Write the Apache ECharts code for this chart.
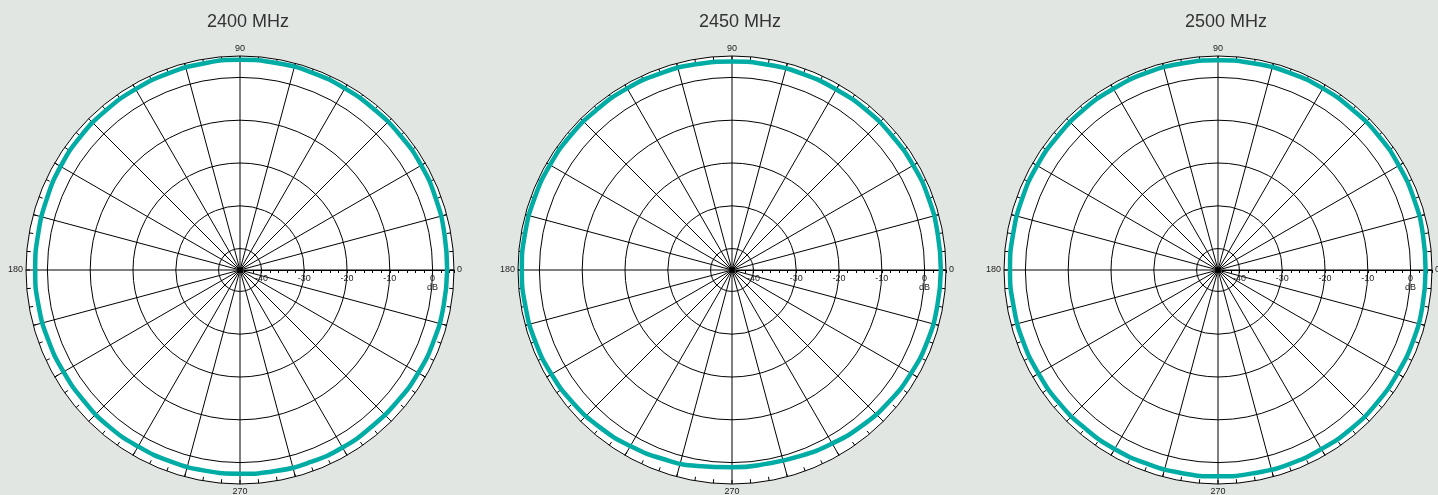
<!DOCTYPE html>
<html>
<head>
<meta charset="utf-8">
<title>Radiation pattern</title>
<script src="https://cdn.jsdelivr.net/npm/echarts@6/dist/echarts.min.js"></script>
<style>
    html, body { margin: 0; padding: 0; background: #e1e6e3; }
    #main { width: 1438px; height: 495px; }
</style>
</head>
<body>
<div id="main"></div>
<script>
// measured gain (dB) every 10 degrees, 0..350
var freqs = ['2400 MHz', '2450 MHz', '2500 MHz'];
var angles = [0, 10, 20, 30, 40, 50, 60, 70, 80, 90, 100, 110, 120, 130, 140, 150, 160, 170,
    180, 190, 200, 210, 220, 230, 240, 250, 260, 270, 280, 290, 300, 310, 320, 330, 340, 350];
var gain2400 = [3.4, 3.5, 3.7, 3.9, 3.9, 3.9, 4.0, 4.1, 4.1, 4.1, 4.0, 3.9, 3.8, 3.7, 3.6, 3.4, 3.1, 2.9,
    2.85, 2.8, 2.7, 2.6, 2.6, 2.7, 2.6, 2.6, 2.6, 2.6, 2.7, 2.8, 2.9, 2.8, 2.9, 3.1, 3.2, 3.3];
var gain2450 = [3.8, 3.8, 3.9, 3.9, 3.8, 3.8, 3.7, 3.7, 3.7, 3.7, 3.8, 3.9, 4.0, 4.0, 4.1, 4.1, 4.1, 4.1,
    4.1, 4.0, 3.9, 3.7, 3.4, 3.0, 2.5, 2.0, 1.5, 1.1, 1.0, 1.3, 1.8, 2.4, 2.9, 3.3, 3.6, 3.7];
var gain2500 = [3.5, 3.6, 3.7, 3.8, 3.9, 3.9, 4.0, 4.0, 4.0, 4.0, 4.0, 4.0, 3.9, 3.9, 3.8, 3.8, 3.7, 3.6,
    3.6, 3.5, 3.5, 3.4, 3.4, 3.3, 3.3, 3.2, 3.2, 3.2, 3.2, 3.3, 3.3, 3.4, 3.4, 3.4, 3.5, 3.5];
var gains = [gain2400, gain2450, gain2500];
var ringLabels = [-40, -30, -20, -10, 0];
var angleLabels = [0, 90, 180, 270];

var centersX = [240, 732, 1218];
var cy = 270, R = 214;
var teal = '#00aca4';
var font = 'Liberation Sans, Arial, sans-serif';

var myChart = echarts.init(document.getElementById('main'));

var option = {
    backgroundColor: '#e1e6e3',
    animation: false,
    title: [],
    polar: [],
    angleAxis: [],
    radiusAxis: [],
    series: []
};

centersX.forEach(function (cx, i) {
    var p = 3 * i;
    option.title.push({
        text: freqs[i],
        left: cx + 3,
        top: 8,
        textAlign: 'center',
        textStyle: { fontSize: 18, fontWeight: 'normal', color: '#333', fontFamily: font }
    });

    // white disc underneath
    option.polar.push({ center: [cx, cy], radius: [0, R] });
    // grid polar
    option.polar.push({ center: [cx, cy], radius: [0, R] });
    // overlay polar for the dB scale (starts 1 dB out from the centre)
    option.polar.push({ center: [cx, cy], radius: [R / 50, R] });

    option.angleAxis.push({
        polarIndex: p, z: 0,
        type: 'value', min: 0, max: 360, interval: 90, startAngle: 0, clockwise: false,
        axisLine: { show: false }, axisTick: { show: false }, axisLabel: { show: false },
        splitLine: { show: false },
        splitArea: { show: true, areaStyle: { color: ['#fff'] } }
    });
    option.radiusAxis.push({ polarIndex: p, show: false, min: -45, max: 5 });

    option.angleAxis.push({
        polarIndex: p + 1, z: 2,
        type: 'value', min: 0, max: 360, interval: 15,
        startAngle: 0, clockwise: false,
        axisLine: { lineStyle: { color: '#000', width: 1 } },
        axisTick: { inside: true, length: 4, lineStyle: { color: '#000', width: 1 } },
        minorTick: { show: true, splitNumber: 3, length: 4, lineStyle: { color: '#000', width: 1 } },
        axisLabel: {
            margin: 3, fontSize: 9, color: '#222', fontFamily: font,
            formatter: function (v) { return (v < 360 && angleLabels.indexOf(v) >= 0) ? String(v) : ''; }
        },
        splitLine: { lineStyle: { color: '#000', width: 1 } }
    });
    option.radiusAxis.push({
        polarIndex: p + 1, z: 2,
        type: 'value', min: -45, max: 5, interval: 5,
        axisLine: { show: false }, axisTick: { show: false }, axisLabel: { show: false },
        splitLine: { lineStyle: { color: ['transparent', '#000'], width: 1 } }
    });

    option.angleAxis.push({
        polarIndex: p + 2, show: false,
        type: 'value', min: 0, max: 360, startAngle: 0, clockwise: false
    });
    option.radiusAxis.push({
        polarIndex: p + 2, z: 3,
        type: 'value', min: -44, max: 5, interval: 2,
        axisLine: { lineStyle: { color: '#000', width: 1 } },
        axisTick: { length: -3, lineStyle: { color: '#000', width: 1 } },
        axisLabel: {
            margin: -4, verticalAlign: 'top', fontSize: 9, color: '#222', fontFamily: font, lineHeight: 9,
            formatter: function (v) {
                if (v === 0) return '0\ndB';
                return ringLabels.indexOf(v) >= 0 ? String(v) : '';
            }
        },
        splitLine: { show: false }
    });

    option.series.push({
        type: 'line',
        coordinateSystem: 'polar',
        polarIndex: p + 1,
        symbol: 'none',
        smooth: true,
        z: 10,
        lineStyle: { color: teal, width: 4.5 },
        data: angles.map(function (a, k) { return [gains[i][k], a]; })
            .concat([[gains[i][0], 360]])
    });
});

myChart.setOption(option);
</script>
</body>
</html>
